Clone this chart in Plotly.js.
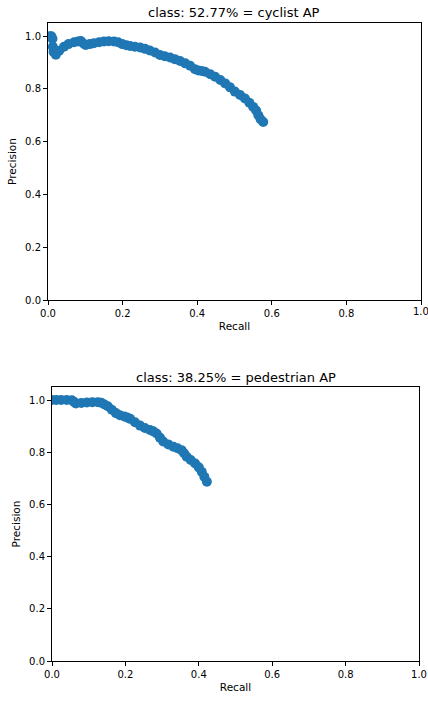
<!DOCTYPE html>
<html>
<head>
<meta charset="utf-8">
<script src="https://cdn.plot.ly/plotly-3.0.1.min.js"></script>
<style>html,body{margin:0;padding:0;background:#fff;}#chart{width:428px;height:704px;}</style>
</head>
<body>
<div id="chart"></div>
<script>
// Cyclist PR curve
const cyclistRecall = [0.005, 0.009, 0.012, 0.013, 0.015, 0.021, 0.030, 0.043, 0.055, 0.070, 0.080, 0.088, 0.095, 0.101, 0.112, 0.123, 0.137, 0.150, 0.163, 0.177, 0.188, 0.199, 0.210, 0.220, 0.233, 0.247, 0.260, 0.273, 0.287, 0.300, 0.313, 0.327, 0.340, 0.354, 0.368, 0.381, 0.394, 0.403, 0.412, 0.421, 0.435, 0.448, 0.462, 0.475, 0.488, 0.501, 0.515, 0.528, 0.540, 0.550, 0.558, 0.564, 0.570, 0.577];
const cyclistPrecision = [1.000, 1.000, 0.990, 0.960, 0.940, 0.930, 0.945, 0.960, 0.970, 0.977, 0.980, 0.982, 0.972, 0.967, 0.970, 0.973, 0.977, 0.980, 0.981, 0.980, 0.977, 0.970, 0.966, 0.963, 0.960, 0.957, 0.952, 0.946, 0.938, 0.929, 0.924, 0.919, 0.913, 0.906, 0.897, 0.888, 0.875, 0.870, 0.868, 0.865, 0.856, 0.846, 0.834, 0.821, 0.806, 0.790, 0.777, 0.764, 0.748, 0.732, 0.718, 0.700, 0.685, 0.675];

// Pedestrian PR curve
const pedestrianRecall = [0.000, 0.012, 0.025, 0.040, 0.054, 0.060, 0.065, 0.080, 0.095, 0.110, 0.125, 0.134, 0.143, 0.152, 0.163, 0.174, 0.185, 0.197, 0.205, 0.213, 0.226, 0.240, 0.253, 0.267, 0.276, 0.285, 0.294, 0.303, 0.317, 0.331, 0.342, 0.353, 0.360, 0.367, 0.378, 0.390, 0.400, 0.408, 0.415, 0.422];
const pedestrianPrecision = [1.000, 1.000, 1.000, 1.000, 0.999, 0.993, 0.987, 0.989, 0.991, 0.992, 0.992, 0.990, 0.983, 0.976, 0.963, 0.950, 0.942, 0.937, 0.933, 0.928, 0.915, 0.902, 0.893, 0.885, 0.880, 0.872, 0.856, 0.841, 0.830, 0.821, 0.815, 0.808, 0.796, 0.783, 0.770, 0.757, 0.742, 0.725, 0.706, 0.687];

const titles = ["class: 52.77% = cyclist AP", "class: 38.25% = pedestrian AP"];
const xTicks = [0, 0.2, 0.4, 0.6, 0.8, 1.0];
const xTickLabels = ["0.0", "0.2", "0.4", "0.6", "0.8", "1.0"];
const yTicks = [0, 0.2, 0.4, 0.6, 0.8, 1.0];
const yTickLabels = ["0.0", "0.2", "0.4", "0.6", "0.8", "1.0"];

const blue = "#1f77b4";
const font = {family: "DejaVu Sans", size: 10, color: "#000"};
const titleFont = {family: "DejaVu Sans", size: 13, color: "#000"};

const traces = [
  {x: cyclistRecall, y: cyclistPrecision, xaxis: "x", yaxis: "y", mode: "lines+markers",
   line: {color: blue, width: 3}, marker: {color: blue, size: 10}, hoverinfo: "none"},
  {x: pedestrianRecall, y: pedestrianPrecision, xaxis: "x2", yaxis: "y2", mode: "lines+markers",
   line: {color: blue, width: 3}, marker: {color: blue, size: 10}, hoverinfo: "none"}
];

function xAxis(domain, anchor) {
  return {domain: domain, anchor: anchor, range: [0, 1], tickvals: xTicks, ticktext: xTickLabels,
    ticks: "outside", ticklen: 4, tickwidth: 1, tickcolor: "#000", showline: true, linecolor: "#000",
    linewidth: 1, mirror: true, showgrid: false, zeroline: false, tickfont: font,
    title: {text: "Recall", font: {family: "DejaVu Sans", size: 10.5, color: "#000"}, standoff: 4}, fixedrange: true};
}
function yAxis(domain, anchor) {
  return {domain: domain, anchor: anchor, range: [0, 1.05], tickvals: yTicks, ticktext: yTickLabels,
    ticks: "outside", ticklen: 4, tickwidth: 1, tickcolor: "#000", showline: true, linecolor: "#000",
    linewidth: 1, mirror: true, showgrid: false, zeroline: false, tickfont: font,
    title: {text: "Precision", font: {family: "DejaVu Sans", size: 10.5, color: "#000"}, standoff: 6}, fixedrange: true};
}

const layout = {
  width: 428, height: 704,
  margin: {l: 0, r: 0, t: 0, b: 0},
  paper_bgcolor: "#fff", plot_bgcolor: "#fff",
  showlegend: false,
  font: font,
  xaxis: xAxis([48/428, 421/428], "y"),
  yaxis: yAxis([1 - 300/704, 1 - 23/704], "x"),
  xaxis2: xAxis([52/428, 419/428], "y2"),
  yaxis2: yAxis([1 - 661/704, 1 - 387/704], "x2"),
  annotations: [
    {text: titles[0], xref: "paper", yref: "paper", x: (48 + 421) / 2 / 428, y: 1 - 12/704,
     xanchor: "center", yanchor: "middle", showarrow: false, font: titleFont},
    {text: titles[1], xref: "paper", yref: "paper", x: (52 + 419) / 2 / 428, y: 1 - 377/704,
     xanchor: "center", yanchor: "middle", showarrow: false, font: titleFont},
    {text: xTickLabels[5], xref: "x", yref: "paper", x: 1.0, y: 1 - 312/704,
     xanchor: "center", yanchor: "middle", showarrow: false, font: font}
  ]
};

Plotly.newPlot("chart", traces, layout, {displayModeBar: false, staticPlot: true});
</script>
</body>
</html>
